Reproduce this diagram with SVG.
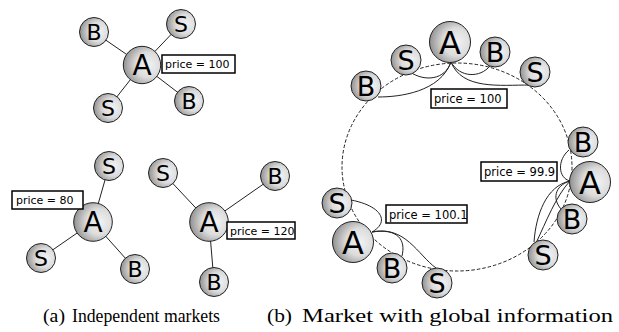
<svg xmlns="http://www.w3.org/2000/svg" width="619" height="332" viewBox="0 0 619 332">
<style>
.n{fill:url(#g);stroke:#222;stroke-width:1}
.la{font-family:"DejaVu Sans",sans-serif;font-size:22px;text-anchor:middle;fill:#000}
.lA{font-family:"DejaVu Sans",sans-serif;font-size:28px;text-anchor:middle;fill:#000}
.lb{font-family:"DejaVu Sans",sans-serif;font-size:27px;text-anchor:middle;fill:#000}
.lB{font-family:"DejaVu Sans",sans-serif;font-size:32px;text-anchor:middle;fill:#000}
.box{fill:#fff;stroke:#000;stroke-width:1.5}
.p{font-family:"DejaVu Sans",sans-serif;font-size:11px;fill:#000}
.pb{font-family:"DejaVu Sans",sans-serif;font-size:11.5px;fill:#000}
.e{stroke:#222;stroke-width:1;fill:none}
.cap{font-family:"Liberation Serif",serif;font-size:18px;fill:#000}
</style>
<defs>
<radialGradient id="g" cx="0.65" cy="0.5" r="0.75" fx="0.68" fy="0.5">
<stop offset="0" stop-color="#f2f2f2"/>
<stop offset="0.45" stop-color="#dcdcdc"/>
<stop offset="1" stop-color="#7a7a7a"/>
</radialGradient>
</defs>

<g id="connectors">
<ellipse cx="457" cy="167" rx="115" ry="104" fill="none" stroke="#222" stroke-width="1" stroke-dasharray="3.5,2"/>
<line class="e" x1="142" y1="65" x2="94" y2="32"/>
<line class="e" x1="142" y1="65" x2="181" y2="24"/>
<line class="e" x1="142" y1="65" x2="108" y2="108"/>
<line class="e" x1="142" y1="65" x2="189" y2="101"/>
<line class="e" x1="93" y1="222" x2="109" y2="166"/>
<line class="e" x1="93" y1="222" x2="41" y2="258"/>
<line class="e" x1="93" y1="222" x2="135" y2="269"/>
<line class="e" x1="209" y1="222" x2="163" y2="173"/>
<line class="e" x1="209" y1="222" x2="275" y2="176"/>
<line class="e" x1="209" y1="222" x2="214" y2="282"/>
<path class="e" d="M451,62 C445,80 425,82 410,72"/>
<path class="e" d="M451,62 C440,92 400,97 378,97"/>
<path class="e" d="M451,62 C460,78 480,78 490,66"/>
<path class="e" d="M451,62 C462,90 500,85 530,85"/>
<path class="e" d="M351,200 C382,206 390,222 372,232"/>
<path class="e" d="M372,232 C398,228 406,240 402,256"/>
<path class="e" d="M372,232 C405,225 418,255 436,268"/>
<path class="e" d="M570,181 C558,178 557,160 569,150"/>
<path class="e" d="M570,181 C554,186 552,200 562,210"/>
<path class="e" d="M570,181 C546,186 536,215 534,242"/>
<path class="e" d="M570,181 C556,196 546,222 536,243"/>
</g>

<g id="a1_A"><circle class="n" cx="142" cy="65" r="18.7"/><text class="lA" x="142" y="75">A</text></g>
<g id="a1_B1"><circle class="n" cx="94" cy="32" r="14.5"/><text class="la" x="94" y="40">B</text></g>
<g id="a1_S1"><circle class="n" cx="181" cy="24" r="14.5"/><text class="la" x="181" y="32">S</text></g>
<g id="a1_S2"><circle class="n" cx="108" cy="108" r="14.5"/><text class="la" x="108" y="116">S</text></g>
<g id="a1_B2"><circle class="n" cx="189" cy="101" r="14.5"/><text class="la" x="189" y="109">B</text></g>
<g id="a1_price"><rect class="box" x="162" y="55" width="73" height="18"/><text class="p" x="165" y="68">price = 100</text></g>

<g id="a2_A"><circle class="n" cx="93" cy="222" r="19.3"/><text class="lA" x="93" y="232">A</text></g>
<g id="a2_S1"><circle class="n" cx="109" cy="166" r="14.5"/><text class="la" x="109" y="174">S</text></g>
<g id="a2_S2"><circle class="n" cx="41" cy="258" r="14.5"/><text class="la" x="41" y="266">S</text></g>
<g id="a2_B"><circle class="n" cx="135" cy="269" r="14.5"/><text class="la" x="135" y="277">B</text></g>
<g id="a2_price"><rect class="box" x="12" y="191" width="71" height="18"/><text class="p" x="16" y="204">price = 80</text></g>

<g id="a3_A"><circle class="n" cx="209" cy="222" r="19.3"/><text class="lA" x="209" y="232">A</text></g>
<g id="a3_S"><circle class="n" cx="163" cy="173" r="14.5"/><text class="la" x="163" y="181">S</text></g>
<g id="a3_B1"><circle class="n" cx="275" cy="176" r="14.5"/><text class="la" x="275" y="184">B</text></g>
<g id="a3_B2"><circle class="n" cx="214" cy="282" r="14.5"/><text class="la" x="214" y="290">B</text></g>
<g id="a3_price"><rect class="box" x="227" y="222" width="68" height="17"/><text class="p" x="230" y="235">price = 120</text></g>

<g id="b1_A"><circle class="n" cx="450" cy="42" r="20.5"/><text class="lB" x="450" y="54">A</text></g>
<g id="b1_S1"><circle class="n" cx="406" cy="60" r="15"/><text class="lb" x="406" y="70">S</text></g>
<g id="b1_B1"><circle class="n" cx="366" cy="86" r="15"/><text class="lb" x="366" y="96">B</text></g>
<g id="b1_B2"><circle class="n" cx="495" cy="52" r="15"/><text class="lb" x="495" y="62">B</text></g>
<g id="b1_S2"><circle class="n" cx="535" cy="72" r="15"/><text class="lb" x="535" y="82">S</text></g>
<g id="b1_price"><rect class="box" x="431" y="89" width="76" height="19"/><text class="pb" x="434" y="103">price = 100</text></g>

<g id="b2_A"><circle class="n" cx="590" cy="182" r="20.5"/><text class="lB" x="590" y="194">A</text></g>
<g id="b2_B1"><circle class="n" cx="583" cy="142" r="15"/><text class="lb" x="583" y="152">B</text></g>
<g id="b2_B2"><circle class="n" cx="572" cy="219" r="15"/><text class="lb" x="572" y="229">B</text></g>
<g id="b2_S"><circle class="n" cx="543" cy="255" r="15"/><text class="lb" x="543" y="265">S</text></g>
<g id="b2_price"><rect class="box" x="481" y="162" width="76" height="19"/><text class="pb" x="484" y="176">price = 99.9</text></g>

<g id="b3_A"><circle class="n" cx="353" cy="242" r="20.5"/><text class="lB" x="353" y="254">A</text></g>
<g id="b3_S1"><circle class="n" cx="337" cy="203" r="15"/><text class="lb" x="337" y="213">S</text></g>
<g id="b3_B"><circle class="n" cx="392" cy="268" r="15"/><text class="lb" x="392" y="278">B</text></g>
<g id="b3_S2"><circle class="n" cx="437" cy="283" r="15"/><text class="lb" x="437" y="293">S</text></g>
<g id="b3_price"><rect class="box" x="386" y="205" width="81" height="18"/><text class="pb" x="389" y="219">price = 100.1</text></g>

<text class="cap" y="322"><tspan x="43" textLength="22" lengthAdjust="spacingAndGlyphs">(a)</tspan><tspan x="72" textLength="148" lengthAdjust="spacingAndGlyphs">Independent markets</tspan></text>
<text class="cap" y="322"><tspan x="267" textLength="25" lengthAdjust="spacingAndGlyphs">(b)</tspan><tspan x="302" textLength="311" lengthAdjust="spacingAndGlyphs">Market with global information</tspan></text>
</svg>
